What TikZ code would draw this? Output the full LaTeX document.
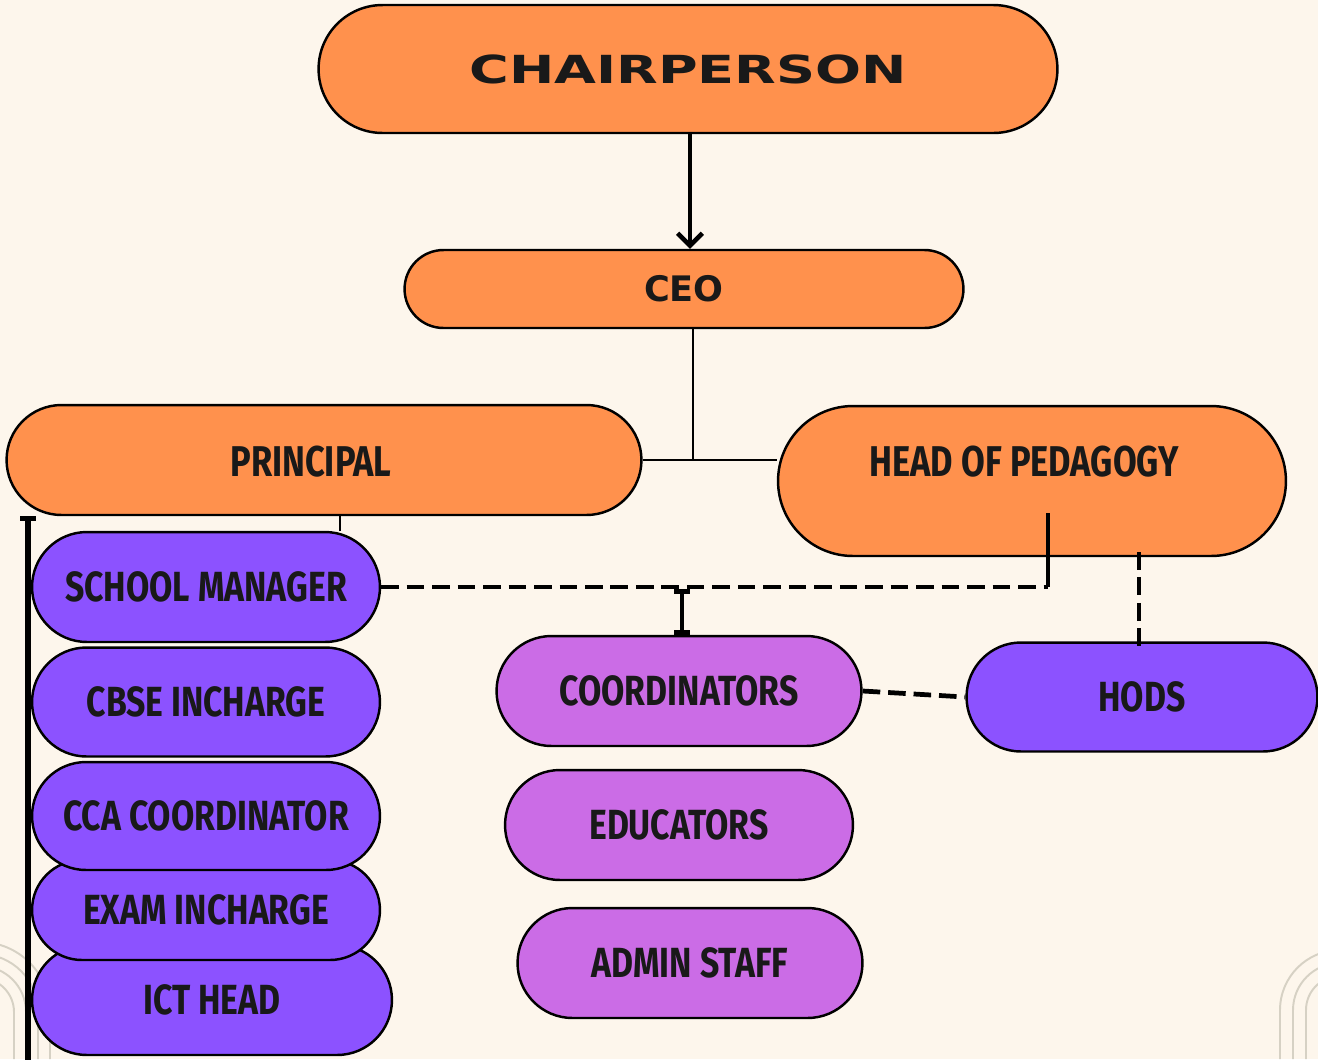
\documentclass[tikz,border=0pt]{standalone}
\usepackage{fontspec}
\usepackage{xcolor}
\usepackage{tikz}
\usetikzlibrary{arrows.meta}
\usetikzlibrary{positioning}
\usetikzlibrary{calc}
\newfontfamily\chairfont[FakeStretch=1.4]{DejaVu Sans}
\newfontfamily\ceofont{DejaVu Sans}
\newfontfamily\labfont[FakeStretch=0.8]{Fira Sans}
\definecolor{bgcream}{HTML}{FDF6EC}
\definecolor{orangebox}{HTML}{FF914D}
\definecolor{violetbox}{HTML}{8C52FF}
\definecolor{mauvebox}{HTML}{CB6CE6}
\definecolor{archline}{HTML}{D6D1C4}
\tikzset{
  orgnode/.style = {align=center, inner sep=0pt, text centered, draw=black,
    line width=1.4pt, text=black!90, font=\labfont\bfseries\fontsize{24}{24}\selectfont},
  pill/.style = {rounded corners=#1, minimum height=2*#1},
  org_o/.style = {orgnode, fill=orangebox},% direction, orange
  org_v/.style = {orgnode, fill=violetbox},% staff under principal, violet
  org_m/.style = {orgnode, fill=mauvebox},% teaching staff, mauve
  orglab/.style = {inner sep=0pt, text=black!90,
    font=\labfont\bfseries\fontsize{24.5}{24}\selectfont},
  solidline/.style = {draw=black, line width=1.3pt},
  dashline/.style = {draw=black, line width=2.7pt, dash pattern=on 10pt off 4.5pt},
  archdeco/.style = {draw=archline, line width=1.1pt}
}

\begin{document}
\begin{tikzpicture}[x=0.02cm, y=-0.02cm]
\fill[bgcream] (0,0) rectangle (1318,1059);
\useasboundingbox (0,0) rectangle (1318,1059);

% arches in the corners
\foreach \r in {70,58,46,34}
  \draw[archdeco] (-20+\r,1059) -- (-20+\r,1012) arc(0:-180:\r);
\foreach \r in {60,47,34}
  \draw[archdeco] (1340-\r,1059) -- (1340-\r,1010) arc(180:360:\r);

\node [org_o, pill=1.28cm, minimum width=14.78cm,
  font=\chairfont\bfseries\fontsize{22}{22}\selectfont] (chair) at (688,69) {CHAIRPERSON};
\node [org_o, pill=0.78cm, minimum width=11.18cm,
  font=\ceofont\bfseries\fontsize{20}{20}\selectfont] (ceo) at (684,289) {CEO};
\node [org_o, pill=1.1cm, minimum width=12.7cm] (principal) at (324,460) {};
\node [orglab] (prilab) at (311,462) {PRINCIPAL};
\node [org_o, pill=1.5cm, minimum width=10.16cm] (hop) at (1032,481) {};
\node [orglab] (hoplab) at (1024,462) {HEAD OF PEDAGOGY};

% under the principal, drawn from the bottom up
\node [org_v, pill=1.1cm, minimum width=7.2cm] (ict) at (212,1000) {ICT HEAD};
\node [org_v, pill=1.0cm, minimum width=6.96cm] (exam) at (206,910) {EXAM INCHARGE};
\node [org_v, pill=1.08cm, minimum width=6.96cm] (cca) at (206,816) {CCA COORDINATOR};
\node [org_v, pill=1.09cm, minimum width=6.96cm] (cbse) at (206,702) {CBSE INCHARGE};
\node [org_v, pill=1.1cm, minimum width=6.96cm] (manager) at (206,587) {SCHOOL MANAGER};

\node [org_m, pill=1.1cm, minimum width=7.3cm] (coord) at (679,691) {COORDINATORS};
\node [org_m, pill=1.1cm, minimum width=6.96cm] (educ) at (679,825) {EDUCATORS};
\node [org_m, pill=1.1cm, minimum width=6.9cm] (admin) at (690,963) {ADMIN STAFF};
\node [org_v, pill=1.09cm, minimum width=7.02cm] (hods) at (1142,697) {HODS};

\coordinate (junc) at (693,461);
\coordinate (ptap) at (340,516);
\coordinate (ltop) at (28,516);
\coordinate (lbot) at (28,1062);
\coordinate (hbend) at (1048,587);
\coordinate (hin) at (1048,513);
\coordinate (ibeam) at (682,589);
\coordinate (hdrop) at (1139,552);

\draw [line width=2.6pt, -{Straight Barb[length=7pt, width=14pt]}] (chair.south -| 690,0) -- (ceo.north -| 690,0);
\draw [solidline] (ceo.south -| junc) -- (junc);
\draw [solidline] (principal.east) -- (principal.east -| hop.west);
\draw [solidline] (ptap) -- (ptap |- manager.north);
\draw [line width=2.9pt, {Bar[width=9pt]}-] (ltop) -- (lbot);
\draw [dashline] (manager.east) -- (hbend);
\draw [line width=1.8pt] (hbend) -- (hin);
\draw [line width=2.6pt, {Bar[width=9pt]}-{Bar[width=9pt]}] (ibeam) -- (ibeam |- coord.north);
\draw [dashline] (hdrop) -- ($(hdrop |- hods.north)+(0,12)$);
\draw [dashline] (coord.east) -- (hods.west);
\end{tikzpicture}
\end{document}
